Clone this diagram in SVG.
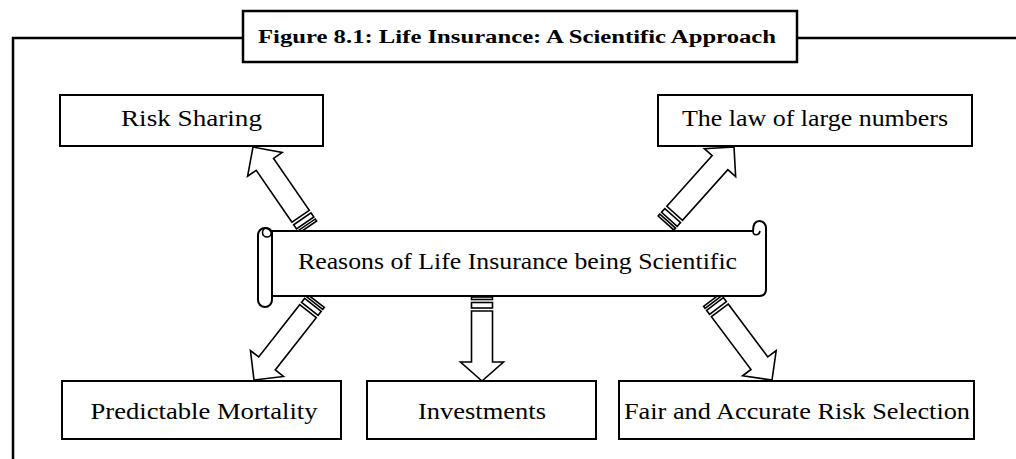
<svg xmlns="http://www.w3.org/2000/svg" width="1016" height="459" viewBox="0 0 1016 459">
<style>
.box{fill:#fff;stroke:#000;stroke-width:2}
.frame{fill:none;stroke:#000;stroke-width:2.5}
.t{font-family:"Liberation Serif","Times New Roman",serif;font-size:24px;fill:#000;text-anchor:middle}
.title{font-family:"Liberation Serif","Times New Roman",serif;font-size:18px;font-weight:bold;fill:#000;text-anchor:middle}
.arr{fill:#fff;stroke:#000;stroke-width:1.6;stroke-linejoin:miter}
.curl{fill:none;stroke:#000;stroke-width:1.6}
</style>
<rect width="1016" height="459" fill="#fff"/>
<g id="frame">
<path class="frame" d="M13,459 V38 H243 M797,38 H1016"/>
<rect class="box" x="243" y="11" width="554" height="51" style="stroke-width:2.5"/>
<text class="title" x="517" y="43" textLength="518" lengthAdjust="spacingAndGlyphs">Figure 8.1: Life Insurance: A Scientific Approach</text>
</g>
<g id="connectors">
<g transform="translate(308,227) rotate(-124.51)">
<rect class="arr" x="0" y="-10.5" width="2.5" height="21"/>
<rect class="arr" x="5" y="-10.5" width="5" height="21"/>
<polygon class="arr" points="13,-10.5 76.08,-10.5 76.08,-21 97.08,0 76.08,21 76.08,10.5 13,10.5"/>
</g>
<g transform="translate(666,223) rotate(-48.18)">
<rect class="arr" x="0" y="-10.5" width="2.5" height="21"/>
<rect class="arr" x="5" y="-10.5" width="5" height="21"/>
<polygon class="arr" points="13,-10.5 80.98,-10.5 80.98,-21 101.98,0 80.98,21 80.98,10.5 13,10.5"/>
</g>
<g transform="translate(316,301) rotate(128.12)">
<rect class="arr" x="0" y="-10.5" width="2.5" height="21"/>
<rect class="arr" x="5" y="-10.5" width="5" height="21"/>
<polygon class="arr" points="13,-10.5 79.42,-10.5 79.42,-21 100.42,0 79.42,21 79.42,10.5 13,10.5"/>
</g>
<g transform="translate(482,297) rotate(90)">
<rect class="arr" x="0" y="-10.5" width="2.5" height="21"/>
<rect class="arr" x="5.5" y="-10.5" width="5.5" height="21"/>
<polygon class="arr" points="14,-10.5 65,-10.5 65,-21.5 84,0 65,21.5 65,10.5 14,10.5"/>
</g>
<g transform="translate(712,300) rotate(53.13)">
<rect class="arr" x="0" y="-10.5" width="2.5" height="21"/>
<rect class="arr" x="5" y="-10.5" width="5" height="21"/>
<polygon class="arr" points="13,-10.5 79,-10.5 79,-21 100,0 79,21 79,10.5 13,10.5"/>
</g>
</g>
<g id="center">
<path class="box" d="M272,231 H753 C753,224 756,221 759.5,221 C763,221 766,224 766,228 V289 Q766,296 759,296 H272 Z"/>
<rect class="box" x="258" y="228" width="14" height="79" rx="7"/>
<ellipse class="curl" cx="267" cy="232.5" rx="4.5" ry="4.5"/>
<path class="curl" d="M753,231 C753,236 759,236 760,231"/>
<text class="t" x="517.5" y="269" textLength="439" lengthAdjust="spacingAndGlyphs">Reasons of Life Insurance being Scientific</text>
</g>
<g id="risk-sharing">
<rect class="box" x="60" y="95" width="263" height="51"/>
<text class="t" x="191.5" y="126" textLength="141" lengthAdjust="spacingAndGlyphs">Risk Sharing</text>
</g>
<g id="law-large-numbers">
<rect class="box" x="658" y="95" width="314" height="51"/>
<text class="t" x="815" y="126" textLength="266" lengthAdjust="spacingAndGlyphs">The law of large numbers</text>
</g>
<g id="predictable-mortality">
<rect class="box" x="62" y="381" width="279" height="58"/>
<text class="t" x="204" y="419" textLength="227" lengthAdjust="spacingAndGlyphs">Predictable Mortality</text>
</g>
<g id="investments">
<rect class="box" x="367" y="381" width="229" height="58"/>
<text class="t" x="482" y="419" textLength="128" lengthAdjust="spacingAndGlyphs">Investments</text>
</g>
<g id="fair-accurate">
<rect class="box" x="619" y="381" width="355" height="58"/>
<text class="t" x="797" y="419" textLength="346" lengthAdjust="spacingAndGlyphs">Fair and Accurate Risk Selection</text>
</g>
</svg>
